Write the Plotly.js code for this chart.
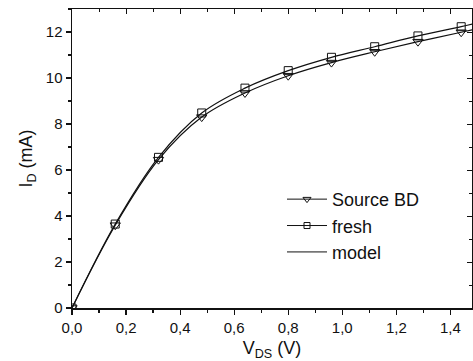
<!DOCTYPE html>
<html><head><meta charset="utf-8">
<script src="https://cdn.plot.ly/plotly-3.0.1.min.js"></script>
<style>html,body{margin:0;padding:0;background:#fff}</style>
</head><body>
<div id="chart" style="width:473px;height:361px"></div>
<script>
const vds = [0, 0.16, 0.32, 0.48, 0.64, 0.80, 0.96, 1.12, 1.28, 1.44];
const sourceBD = [0, 3.6, 6.45, 8.3, 9.35, 10.1, 10.67, 11.14, 11.58, 11.99];
const fresh = [0, 3.65, 6.55, 8.48, 9.56, 10.32, 10.9, 11.36, 11.83, 12.23];
const modelX = [0, 0.16, 0.32, 0.48, 0.64, 0.80, 0.96, 1.12, 1.28, 1.44, 1.5];
const modelBD = [0, 3.6, 6.45, 8.3, 9.35, 10.1, 10.67, 11.14, 11.58, 11.99, 12.15];
const modelFresh = [0, 3.65, 6.55, 8.48, 9.56, 10.32, 10.9, 11.36, 11.83, 12.23, 12.4];
const legendNames = ['Source BD', 'fresh', 'model'];

const ink = '#111';
const fam = 'Liberation Sans, Arial, sans-serif';
const traces = [
  {x: modelX, y: modelBD, mode: 'lines', line: {color: ink, width: 1.2, shape: 'spline'}, showlegend: false},
  {x: modelX, y: modelFresh, mode: 'lines', line: {color: ink, width: 1.2, shape: 'spline'}, showlegend: false},
  {x: vds, y: sourceBD, mode: 'markers', showlegend: false,
   marker: {symbol: 'triangle-down-open', size: 9, color: ink, line: {width: 1, color: ink}}},
  {x: vds, y: fresh, mode: 'markers', showlegend: false,
   marker: {symbol: 'square-open', size: 8, color: ink, line: {width: 1, color: ink}}},
  // legend entries
  {x: [null], y: [null], name: legendNames[0], mode: 'lines+markers', legendgroup: 'a',
   line: {color: ink, width: 1}, marker: {symbol: 'triangle-down-open', size: 7, color: ink, line: {width: 1, color: ink}}},
  {x: [null], y: [null], name: legendNames[1], mode: 'lines+markers', legendgroup: 'b',
   line: {color: ink, width: 1}, marker: {symbol: 'square-open', size: 6, color: ink, line: {width: 1, color: ink}}},
  {x: [null], y: [null], name: legendNames[2], mode: 'lines', legendgroup: 'c',
   line: {color: ink, width: 1}},
  {x: [0], y: [0], xaxis: 'x2', yaxis: 'y2', mode: 'markers', marker: {opacity: 0}, showlegend: false}
];
const layout = {
  width: 473, height: 361,
  margin: {l: 72, r: 1, t: 9, b: 53},
  paper_bgcolor: '#fff', plot_bgcolor: '#fff',
  separators: ',.',
  font: {family: fam, color: ink, size: 15},
  showlegend: true,
  legend: {x: 0.525, y: 0.425, xanchor: 'left', yanchor: 'top', bgcolor: 'rgba(0,0,0,0)', itemwidth: 40,
    font: {family: fam, size: 18, color: ink}, traceorder: 'grouped', tracegroupgap: 0},
  xaxis: {range: [0, 1.48], dtick: 0.2, tickformat: '.1f', ticks: 'outside', ticklen: 5, tickwidth: 1.2,
    tickcolor: ink, showline: true, linecolor: ink, linewidth: 1.5, showgrid: false, zeroline: false,
    minor: {dtick: 0.1, ticks: 'outside', ticklen: 3, tickcolor: ink},
    tickfont: {size: 15}, title: {text: 'V<sub>DS</sub> (V)', font: {size: 18}, standoff: 11}},
  yaxis: {range: [0, 13], dtick: 2, ticks: 'outside', ticklen: 5, tickwidth: 1.2,
    tickcolor: ink, showline: true, linecolor: ink, linewidth: 1.5, showgrid: false, zeroline: false,
    minor: {dtick: 1, ticks: 'outside', ticklen: 3, tickcolor: ink},
    tickfont: {size: 15}, title: {text: 'I<sub>D</sub> (mA)', font: {size: 18}, standoff: 8}},
  xaxis2: {overlaying: 'x', matches: 'x', side: 'top', range: [0, 1.48], dtick: 0.2, ticks: 'inside', ticklen: 5,
    tickcolor: ink, showline: true, linecolor: ink, linewidth: 1.5, showticklabels: false, showgrid: false, zeroline: false,
    minor: {dtick: 0.1, ticks: 'inside', ticklen: 3, tickcolor: ink}},
  yaxis2: {overlaying: 'y', side: 'right', range: [0, 13], dtick: 2, ticks: 'inside', ticklen: 5,
    tickcolor: ink, showline: true, linecolor: ink, linewidth: 1.5, showticklabels: false, showgrid: false, zeroline: false,
    minor: {dtick: 1, ticks: 'inside', ticklen: 3, tickcolor: ink}}
};
Plotly.newPlot('chart', traces, layout, {staticPlot: true});
</script>
</body></html>
